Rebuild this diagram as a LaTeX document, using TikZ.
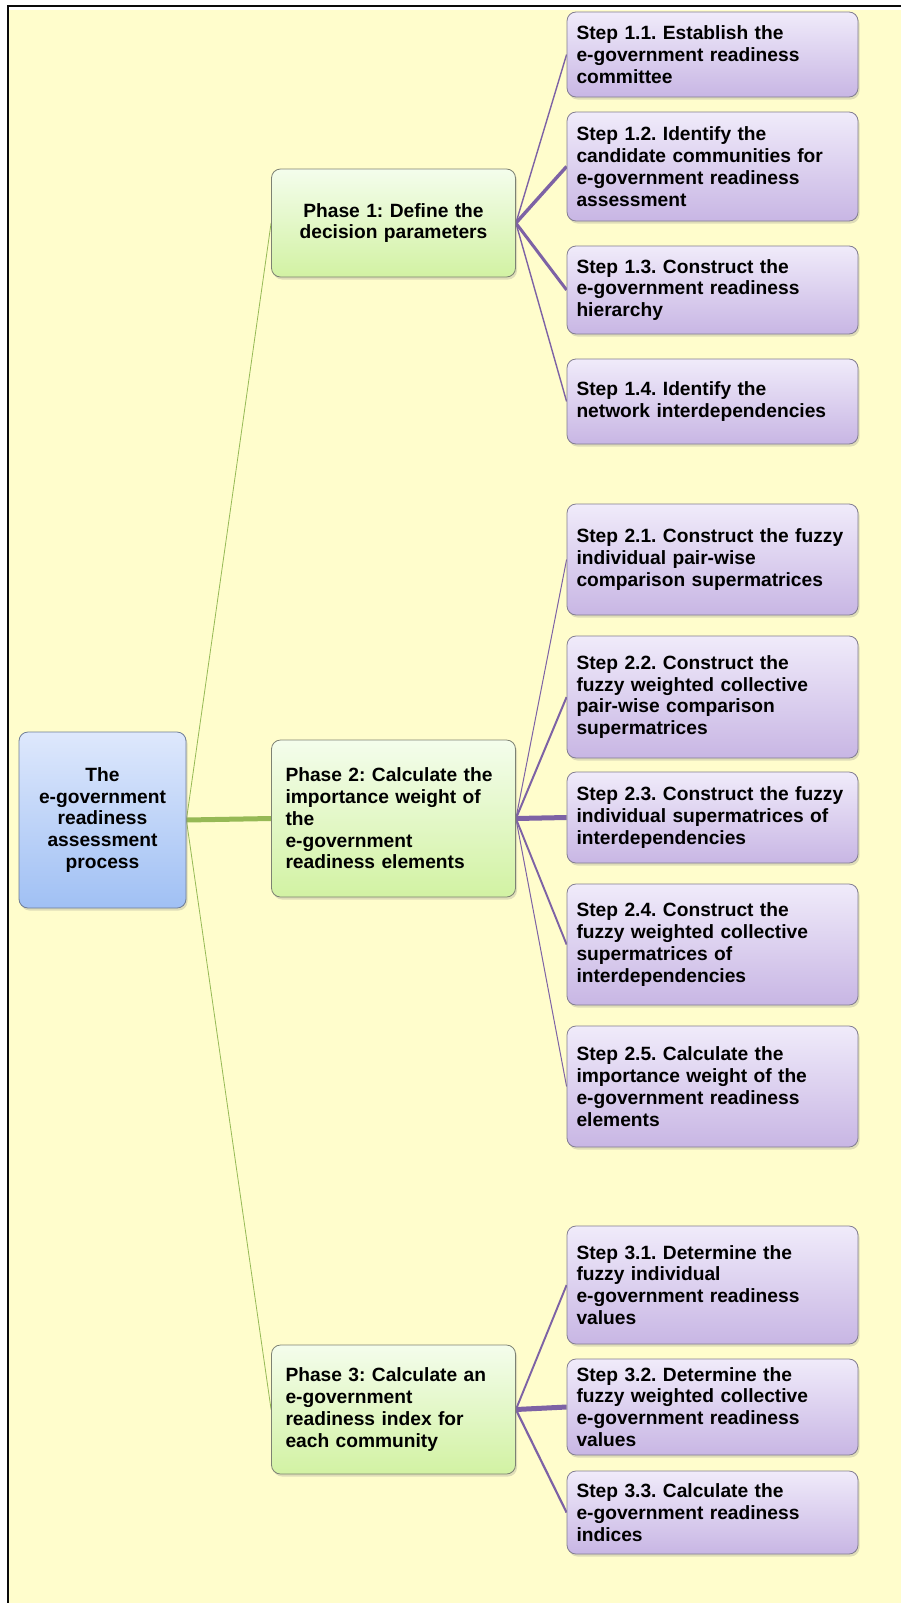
\documentclass[tikz,border=0pt]{standalone}
\usepackage{fontspec}
\setmainfont{Liberation Sans}
\usetikzlibrary{shadows,backgrounds}
\frenchspacing
\definecolor{paper}{RGB}{255,253,204}
\definecolor{frameline}{RGB}{10,10,10}
\definecolor{rootTop}{RGB}{222,232,252}
\definecolor{rootBot}{RGB}{160,192,244}
\definecolor{rootLine}{RGB}{110,125,150}
\definecolor{phTop}{RGB}{244,253,236}
\definecolor{phBot}{RGB}{210,242,163}
\definecolor{phLine}{RGB}{125,130,115}
\definecolor{stTop}{RGB}{240,235,250}
\definecolor{stBot}{RGB}{200,182,228}
\definecolor{stLine}{RGB}{130,125,145}
\definecolor{greenl}{RGB}{150,185,85}
\definecolor{purplel}{RGB}{125,98,165}
\tikzset{
  box/.style={draw, line width=0.8pt, rounded corners=9pt,
    font=\bfseries\fontsize{19.2}{21.8}\selectfont,
    drop shadow={opacity=0.25, shadow xshift=1.5pt, shadow yshift=-2.5pt}},
  rootbox/.style={box, draw=rootLine, top color=rootTop, bottom color=rootBot,
    text width=150pt, inner xsep=8.5pt, align=center},
  phasebox/.style={box, draw=phLine, top color=phTop, bottom color=phBot,
    text width=216pt, inner xsep=14pt},
  stepbox/.style={box, draw=stLine, top color=stTop, bottom color=stBot,
    text width=272pt, inner xsep=9.5pt, align=left},
  greenline/.style={draw=greenl},
  purpleline/.style={draw=purplel}
}
\begin{document}
\begin{tikzpicture}[x=1pt,y=-1pt]
\useasboundingbox (0,0) rectangle (901,1603);

\node[rootbox, minimum height=176pt] (root) at (102.5,820)
  {The\\e-government\\readiness\\assessment\\process};

\node[phasebox, align=center, minimum height=108pt] (ph1) at (393.5,223)
  {Phase 1: Define the\\decision parameters};
\node[phasebox, align=left, minimum height=157pt] (ph2) at (393.5,818.5)
  {Phase 2: Calculate the\\importance weight of\\the\\e-government\\readiness elements};
\node[phasebox, align=left, minimum height=129pt] (ph3) at (393.5,1409.5)
  {Phase 3: Calculate an\\e-government\\readiness index for\\each community};

\node[stepbox, minimum height=85pt] (s11) at (712.5,54.5)
  {Step 1.1. Establish the\\e-government readiness\\committee};
\node[stepbox, minimum height=109pt] (s12) at (712.5,166.5)
  {Step 1.2. Identify the\\candidate communities for\\e-government readiness\\assessment};
\node[stepbox, minimum height=88pt] (s13) at (712.5,290)
  {Step 1.3. Construct the\\e-government readiness\\hierarchy};
\node[stepbox, minimum height=85pt] (s14) at (712.5,401.5)
  {Step 1.4. Identify the\\network interdependencies};

\node[stepbox, minimum height=111pt] (s21) at (712.5,559.5)
  {Step 2.1. Construct the fuzzy\\individual pair-wise\\comparison supermatrices};
\node[stepbox, minimum height=122pt] (s22) at (712.5,697)
  {Step 2.2. Construct the\\fuzzy weighted collective\\pair-wise comparison\\supermatrices};
\node[stepbox, minimum height=91pt] (s23) at (712.5,817.5)
  {Step 2.3. Construct the fuzzy\\individual supermatrices of\\interdependencies};
\node[stepbox, minimum height=121pt] (s24) at (712.5,944.5)
  {Step 2.4. Construct the\\fuzzy weighted collective\\supermatrices of\\interdependencies};
\node[stepbox, minimum height=121pt] (s25) at (712.5,1086.5)
  {Step 2.5. Calculate the\\importance weight of the\\e-government readiness\\elements};

\node[stepbox, minimum height=118pt] (s31) at (712.5,1285)
  {Step 3.1. Determine the\\fuzzy individual\\e-government readiness\\values};
\node[stepbox, minimum height=96pt] (s32) at (712.5,1407)
  {Step 3.2. Determine the\\fuzzy weighted collective\\e-government readiness\\values};
\node[stepbox, minimum height=83pt] (s33) at (712.5,1512.5)
  {Step 3.3. Calculate the\\e-government readiness\\indices};

\begin{scope}[on background layer]
\fill[white] (0,0) rectangle (901,1603);
\fill[paper] (9,10.5) rectangle (901,1603);
\foreach \p/\w in {ph1/0.8, ph2/5, ph3/0.8}
  \draw[greenline, line width=\w pt] (root.east) -- (\p.west);
\foreach \s/\w in {s11/1.4, s12/3.4, s13/3, s14/1.4}
  \draw[purpleline, line width=\w pt] (ph1.east) -- (\s.west);
\foreach \s/\w in {s21/1, s22/2, s23/5, s24/1.9, s25/1}
  \draw[purpleline, line width=\w pt] (ph2.east) -- (\s.west);
\foreach \s/\w in {s31/1.9, s32/5, s33/2.2}
  \draw[purpleline, line width=\w pt] (ph3.east) -- (\s.west);
\end{scope}

\draw[frameline, line width=2pt] (8,1603) -- (8,6) -- (901,6);
\end{tikzpicture}
\end{document}
